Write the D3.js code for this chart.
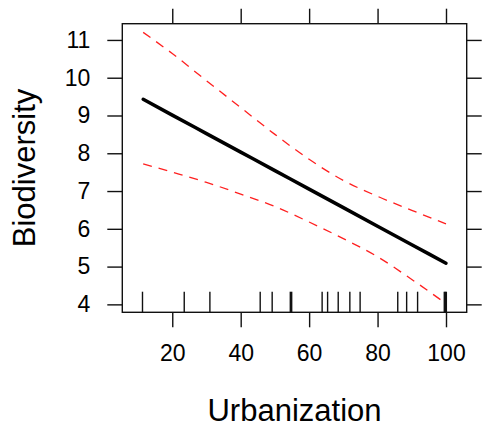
<!DOCTYPE html>
<html>
<head>
<meta charset="utf-8">
<script src="https://cdn.jsdelivr.net/npm/d3@7"></script>
<style>
  html, body { margin: 0; padding: 0; background: #fff; }
  svg { display: block; font-family: "Liberation Sans", Arial, sans-serif; }
</style>
</head>
<body>
<svg id="chart" width="482" height="433"></svg>
<script>
// ---- data ----
const xValues   = [11.5, 20, 30, 40, 50, 60, 70, 80, 90, 100];
const fitValues = [9.43, 9.01, 8.52, 8.03, 7.54, 7.05, 6.56, 6.07, 5.58, 5.09];
const upperCI   = [11.20, 10.64, 9.92, 9.21, 8.50, 7.84, 7.28, 6.86, 6.49, 6.13];
const lowerCI   = [7.72, 7.50, 7.23, 6.92, 6.59, 6.18, 5.74, 5.26, 4.66, 4.02];
const rugValues = [11.3, 23.5, 31.0, 45.7, 49.2, 54.5, 54.9, 63.8, 65.4, 68.5, 71.9, 74.9, 85.9, 88.5, 91.7, 99.5, 99.8, 100.1];
const xTicks = [20, 40, 60, 80, 100];
const yTicks = [4, 5, 6, 7, 8, 9, 10, 11];
const xTitle = "Urbanization";
const yTitle = "Biodiversity";

// ---- layout ----
const svg = d3.select("#chart");
const panel = { left: 122.3, right: 466.7, top: 23.7, bottom: 312.3 };

const x = d3.scaleLinear().domain([5.4, 106.05]).range([panel.left, panel.right]);
const y = d3.scaleLinear().domain([3.79, 11.43]).range([panel.bottom, panel.top]);

const ink = "#111";
const tickLen = 15;

function styleAxis(g) {
  g.select(".domain").remove();
  g.selectAll(".tick line").attr("stroke", ink).attr("stroke-width", 1.4);
  g.selectAll(".tick text").attr("fill", "#000").style("font-size", "23px")
    .style("font-family", '"Liberation Sans", Arial, sans-serif');
}

// bottom axis with labels
svg.append("g")
  .attr("transform", `translate(0,${panel.bottom})`)
  .call(d3.axisBottom(x).tickValues(xTicks).tickSize(tickLen).tickSizeOuter(0).tickPadding(17))
  .call(styleAxis);

// top axis, ticks only
svg.append("g")
  .attr("transform", `translate(0,${panel.top})`)
  .call(d3.axisTop(x).tickValues(xTicks).tickSize(tickLen).tickSizeOuter(0).tickFormat(""))
  .call(styleAxis);

// left axis with labels
svg.append("g")
  .attr("transform", `translate(${panel.left},0)`)
  .call(d3.axisLeft(y).tickValues(yTicks).tickSize(tickLen).tickSizeOuter(0).tickPadding(17))
  .call(styleAxis);

// right axis, ticks only
svg.append("g")
  .attr("transform", `translate(${panel.right},0)`)
  .call(d3.axisRight(y).tickValues(yTicks).tickSize(tickLen).tickSizeOuter(0).tickFormat(""))
  .call(styleAxis);

// panel border
svg.append("rect")
  .attr("x", panel.left).attr("y", panel.top)
  .attr("width", panel.right - panel.left).attr("height", panel.bottom - panel.top)
  .attr("fill", "none").attr("stroke", ink).attr("stroke-width", 1.4);

// rug
svg.append("g").selectAll("line").data(rugValues).join("line")
  .attr("x1", d => x(d)).attr("x2", d => x(d))
  .attr("y1", panel.bottom).attr("y2", panel.bottom - 20.6)
  .attr("stroke", ink).attr("stroke-width", 1.4);

// lines
const rows = xValues.map((v, i) => ({ x: v, fit: fitValues[i], lo: lowerCI[i], hi: upperCI[i] }));
const mk = key => d3.line().x(d => x(d.x)).y(d => y(d[key])).curve(d3.curveMonotoneX);

svg.append("path").datum(rows).attr("d", mk("hi"))
  .attr("fill", "none").attr("stroke", "#ff2020").attr("stroke-width", 1.3)
  .attr("stroke-dasharray", "9,7");
svg.append("path").datum(rows).attr("d", mk("lo"))
  .attr("fill", "none").attr("stroke", "#ff2020").attr("stroke-width", 1.3)
  .attr("stroke-dasharray", "9,7");
svg.append("path").datum(rows).attr("d", mk("fit"))
  .attr("fill", "none").attr("stroke", "#000").attr("stroke-width", 3.5)
  .attr("stroke-linecap", "round");

// titles
svg.append("text")
  .attr("x", (panel.left + panel.right) / 2).attr("y", 421)
  .attr("text-anchor", "middle").style("font-size", "31px").attr("fill", "#000")
  .text(xTitle);

svg.append("text")
  .attr("transform", `translate(35,${(panel.top + panel.bottom) / 2}) rotate(-90)`)
  .attr("text-anchor", "middle").style("font-size", "31px").attr("fill", "#000")
  .text(yTitle);
</script>
</body>
</html>
